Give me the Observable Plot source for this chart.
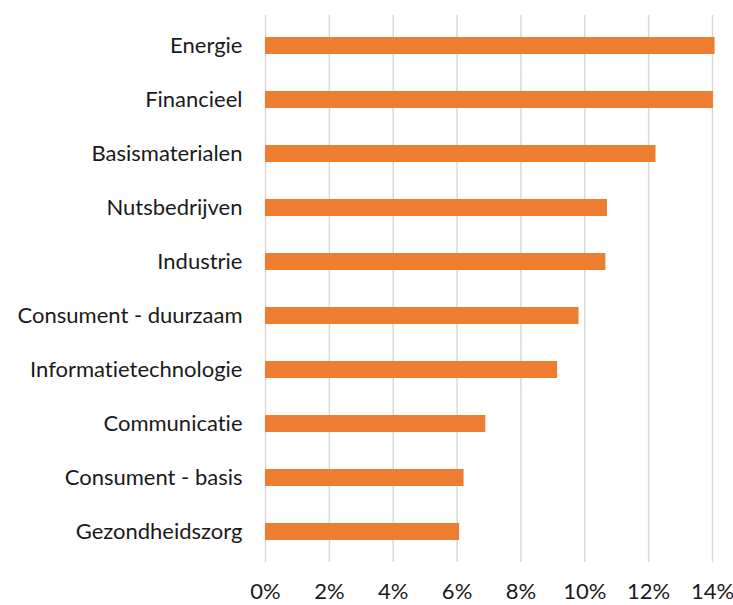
<!DOCTYPE html>
<html>
<head>
<meta charset="utf-8">
<script src="https://cdn.jsdelivr.net/npm/d3@7"></script>
<script src="https://cdn.jsdelivr.net/npm/@observablehq/plot@0.6"></script>
<style>
  html, body { margin: 0; padding: 0; background: #fff; }
  #chart svg { font-family: Lato, "Open Sans", sans-serif; font-variant-ligatures: none; font-feature-settings: "liga" 0; }
</style>
</head>
<body>
<div id="chart"></div>
<script>
const sectors = ["Energie", "Financieel", "Basismaterialen", "Nutsbedrijven", "Industrie",
  "Consument - duurzaam", "Informatietechnologie", "Communicatie", "Consument - basis", "Gezondheidszorg"];
const values = [14.08, 14.03, 12.23, 10.71, 10.66, 9.82, 9.15, 6.9, 6.22, 6.08];
const xTicks = [0, 2, 4, 6, 8, 10, 12, 14];

const data = sectors.map((s, i) => ({sector: s, value: values[i]}));

const chart = Plot.plot({
  width: 733,
  height: 605,
  marginLeft: 265,
  marginRight: 21,
  marginTop: 15,
  marginBottom: 43,
  style: {fontSize: "22px", fontFamily: "Lato, 'Open Sans', sans-serif", color: "#1a1a1a", background: "#fff"},
  x: {domain: [0, 14], ticks: xTicks, tickFormat: d => d + "%", label: null},
  y: {domain: sectors, paddingInner: 0.69, paddingOuter: 0.35, align: 0.5, label: null},
  marks: [
    Plot.ruleX(xTicks, {stroke: "#d9d9d9", strokeWidth: 1.5}),
    Plot.barX(data, {y: "sector", x: "value", fill: "#ED7D31"}),
    Plot.axisX({ticks: xTicks, tickFormat: d => d + "%", tickSize: 0, tickPadding: 21, fontSize: 22, fill: "#1a1a1a"}),
    Plot.axisY({tickSize: 0, tickPadding: 23, fontSize: 22, fill: "#1a1a1a"})
  ]
});
document.getElementById("chart").appendChild(chart);
</script>
</body>
</html>
